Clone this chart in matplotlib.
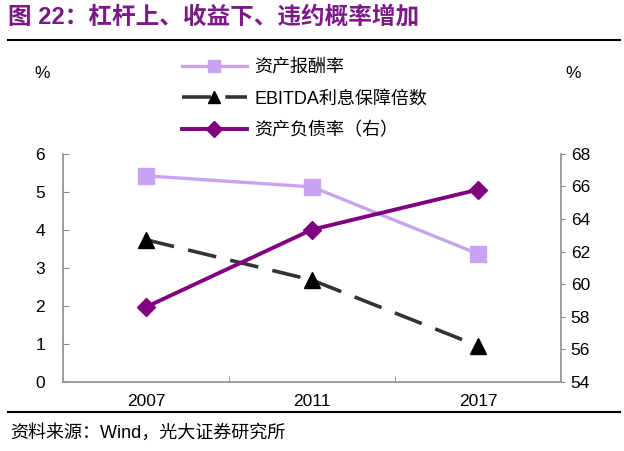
import matplotlib
matplotlib.use("Agg")
import matplotlib.pyplot as plt
from matplotlib.lines import Line2D

plt.rcParams['font.family'] = ['Liberation Sans', 'Noto Sans CJK SC', 'DejaVu Sans']

# data
years = ['2007', '2011', '2017']
roa = [5.42, 5.13, 3.37]              # 资产报酬率 (left)
ebitda_cover = [3.74, 2.68, 0.95]     # EBITDA利息保障倍数 (left)
debt_ratio = [58.6, 63.35, 65.8]      # 资产负债率 (right)

left_ticks = [0, 1, 2, 3, 4, 5, 6]
right_ticks = [54, 56, 58, 60, 62, 64, 66, 68]

title_text = '图 22：杠杆上、收益下、违约概率增加'
source_text = '资料来源：Wind，光大证券研究所'

c_roa = '#C9A2F2'
c_ebit = '#333333'
c_debt = '#800080'
c_axis = '#8C8C8C'

fig = plt.figure(figsize=(6.24, 4.51), dpi=100)
ax = fig.add_axes([0.101, 0.153, 0.798, 0.506])
ax2 = ax.twinx()

x = list(range(len(years)))

ax.plot(x, roa, color=c_roa, lw=2.4, marker='s', ms=11, mfc=c_roa, mec=c_roa,
        label='资产报酬率', zorder=3)
ax.plot(x, ebitda_cover, color=c_ebit, lw=2.6, dashes=(8, 4), marker='^', ms=11,
        mfc='black', mec='black', label='EBITDA利息保障倍数', zorder=3)
ax2.plot(x, debt_ratio, color=c_debt, lw=2.8, marker='D', ms=9, mfc=c_debt,
         mec=c_debt, label='资产负债率（右）', zorder=3)

ax.set_xlim(-0.5, 2.5)
ax.set_ylim(0, 6)
ax2.set_ylim(54, 68)
ax.set_yticks(left_ticks)
ax2.set_yticks(right_ticks)

ax.set_xticks(x)
ax.set_xticklabels(years, fontsize=12.5)
ax.set_xticks([0.5, 1.5], minor=True)
ax.tick_params(axis='x', which='major', length=0, pad=9)
ax.tick_params(axis='x', which='minor', direction='in', length=4, color=c_axis)
ax.tick_params(axis='y', direction='in', length=4, color=c_axis, labelsize=12.5, pad=13)
ax2.tick_params(axis='y', direction='out', length=3, color=c_axis, labelsize=12.5, pad=4)

for a in (ax, ax2):
    a.spines['top'].set_visible(False)
    for s in ('left', 'right', 'bottom'):
        a.spines[s].set_color(c_axis)
        a.spines[s].set_linewidth(1.2)
ax.spines['right'].set_visible(False)
ax2.spines['left'].set_visible(False)
ax2.spines['bottom'].set_visible(False)

fig.text(0.068, 0.838, '%', fontsize=12.5, ha='center', va='center')
fig.text(0.918, 0.838, '%', fontsize=12.5, ha='center', va='center')

# legend drawn from the plotted lines
handles = ax.get_lines() + ax2.get_lines()
labels = [h.get_label() for h in handles]
leg = fig.legend(handles, labels, loc='upper left', bbox_to_anchor=(0.28, 0.884),
                 frameon=False, fontsize=13, handlelength=3.6, handletextpad=0.4,
                 labelspacing=0.78, borderaxespad=0, markerscale=0.85)

# title and source
fig.text(0.013, 0.962, title_text, fontsize=17, fontweight='bold', color='#7B1A86',
         ha='left', va='center')
fig.add_artist(Line2D([0.013, 0.994], [0.911, 0.911], color='black', lw=1.5))
fig.add_artist(Line2D([0.013, 0.994], [0.087, 0.087], color='black', lw=1.5))
fig.text(0.016, 0.040, source_text, fontsize=13, ha='left', va='center')

fig.savefig('out.png', dpi=100)
